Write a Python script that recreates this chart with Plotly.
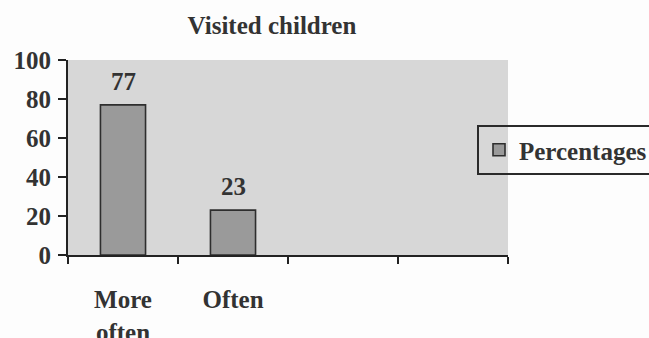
import plotly.graph_objects as go

# Survey result: how often the children were visited
categories = ["More<br>often", "Often", "", ""]
percentages = [77, 23, None, None]
y_ticks = [0, 20, 40, 60, 80, 100]

x_pos = list(range(1, len(categories) + 1))
bar_x = [x for x, v in zip(x_pos, percentages) if v is not None]
bar_y = [v for v in percentages if v is not None]

TEXT = "#333333"
FONT = "Liberation Serif"

fig = go.Figure()
fig.add_trace(go.Bar(
    x=bar_x, y=bar_y, name="Percentages",
    width=0.41,
    marker=dict(color="#9a9a9a", line=dict(color="#2e2e2e", width=1.6)),
))

# value labels above the bars
for x, v in zip(bar_x, bar_y):
    fig.add_annotation(x=x, y=v, text=str(v), showarrow=False,
                       yanchor="bottom", yshift=8,
                       font=dict(family=FONT, size=25, color=TEXT, weight="bold"))

fig.update_layout(
    width=649, height=338,
    margin=dict(l=68, r=141, t=60, b=83, autoexpand=False),
    paper_bgcolor="#fdfdfd",
    plot_bgcolor="#d7d7d7",
    font=dict(family=FONT, color=TEXT),
    title=dict(text="Visited children", x=272 / 649, xanchor="center",
               y=1 - 25 / 338, yanchor="middle",
               font=dict(family=FONT, size=25, color=TEXT, weight="bold")),
    showlegend=True,
    legend=dict(x=(477 - 68) / 440, xanchor="left", y=(255 - 125) / 195, yanchor="top",
                bordercolor="#2a2a2a", borderwidth=2, bgcolor="rgba(0,0,0,0)",
                font=dict(family=FONT, size=25, color=TEXT, weight="bold"),
                itemwidth=30, tracegroupgap=0),
    bargap=0.59,
)

fig.update_xaxes(
    range=[0.5, len(categories) + 0.5],
    tickvals=x_pos,
    ticktext=categories,
    ticks="", ticklabelstandoff=21, automargin=False,
    tickfont=dict(family=FONT, size=25, color=TEXT, weight="bold"),
    showgrid=False, zeroline=False,
    showline=True, linecolor="#222222", linewidth=2,
    minor=dict(tickvals=[x + 0.5 for x in [0] + x_pos], ticks="outside",
               ticklen=7, tickwidth=2, tickcolor="#222222", showgrid=False),
)

fig.update_yaxes(
    range=[0, 100],
    tickvals=y_ticks,
    ticks="outside", ticklen=8, tickwidth=2, tickcolor="#222222",
    ticklabelstandoff=2, automargin=False,
    tickfont=dict(family=FONT, size=25, color=TEXT, weight="bold"),
    showgrid=False, zeroline=False,
    showline=True, linecolor="#222222", linewidth=2,
)

fig.write_html("out.html")
